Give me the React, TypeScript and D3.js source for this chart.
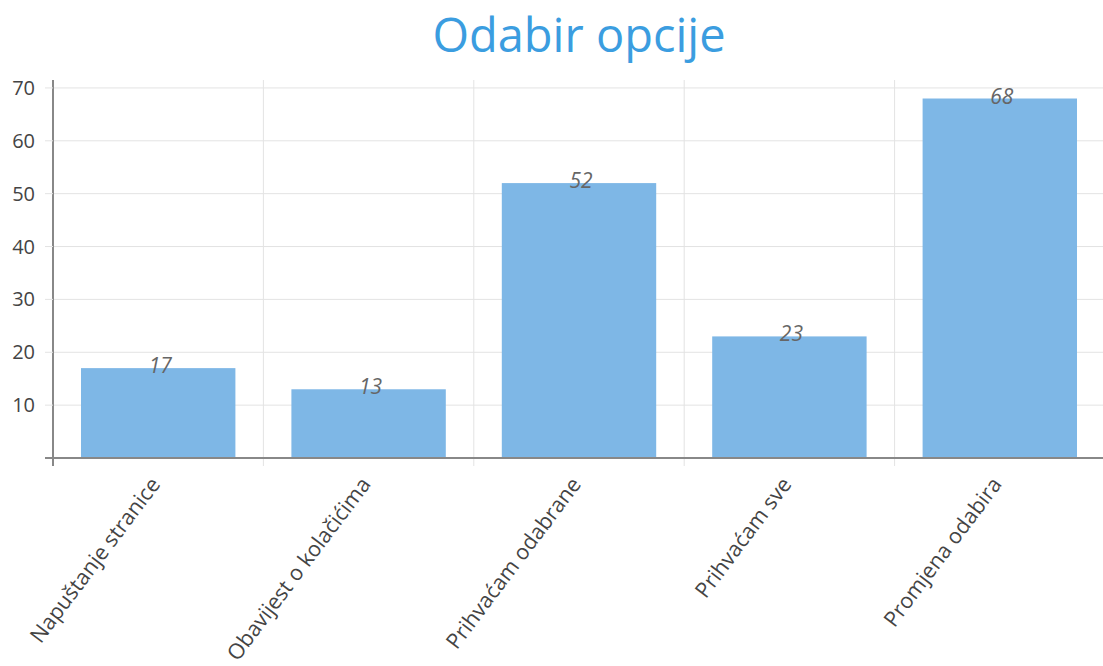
import React, { useEffect, useRef } from 'react';
import * as d3 from 'd3';

const categories = ['Napuštanje stranice', 'Obavijest o kolačićima', 'Prihvaćam odabrane', 'Prihvaćam sve', 'Promjena odabira'];
const values = [17, 13, 52, 23, 68];
const yTicks = [10, 20, 30, 40, 50, 60, 70];
const title = 'Odabir opcije';

const W = 1103;
const H = 666;

export default function App() {
  const ref = useRef<SVGSVGElement>(null);

  useEffect(() => {
    const svg = d3.select(ref.current);
    svg.selectAll('*').remove();

    const margin = { top: 80, right: -2, bottom: 208, left: 53 };
    const width = W - margin.left - margin.right;
    const height = H - margin.top - margin.bottom;

    const x = d3.scaleBand().domain(categories).range([0, width]).paddingInner(0).paddingOuter(0);
    const y = d3.scaleLinear().domain([0, 71.5]).range([height, 0]);

    const g = svg.append('g').attr('transform', `translate(${margin.left},${margin.top})`);

    // grid lines
    g.selectAll('line.hgrid')
      .data(yTicks)
      .enter()
      .append('line')
      .attr('x1', 0)
      .attr('x2', width)
      .attr('y1', d => y(d))
      .attr('y2', d => y(d))
      .attr('stroke', '#e3e3e3')
      .attr('stroke-width', 1);

    g.selectAll('line.vgrid')
      .data(categories.slice(1))
      .enter()
      .append('line')
      .attr('x1', d => x(d)!)
      .attr('x2', d => x(d)!)
      .attr('y1', 0)
      .attr('y2', height + 8)
      .attr('stroke', '#e3e3e3')
      .attr('stroke-width', 1);

    // bars
    const barPad = 28;
    g.selectAll('rect')
      .data(values)
      .enter()
      .append('rect')
      .attr('x', (d, i) => x(categories[i])! + barPad)
      .attr('y', d => y(d))
      .attr('width', x.bandwidth() - 2 * barPad)
      .attr('height', d => height - y(d))
      .attr('fill', '#7eb7e6');

    // value labels
    g.selectAll('text.val')
      .data(values)
      .enter()
      .append('text')
      .attr('x', (d, i) => x(categories[i])! + x.bandwidth() / 2 + 2)
      .attr('y', d => y(d) + 5)
      .attr('text-anchor', 'middle')
      .attr('font-family', 'Open Sans')
      .attr('font-style', 'italic')
      .attr('font-size', 21)
      .attr('fill', '#666')
      .text(d => d);

    // y axis
    g.append('line')
      .attr('x1', 0).attr('x2', 0)
      .attr('y1', 0).attr('y2', height + 8)
      .attr('stroke', '#888').attr('stroke-width', 2);

    g.selectAll('line.ytick')
      .data(yTicks)
      .enter()
      .append('line')
      .attr('x1', -8).attr('x2', 0)
      .attr('y1', d => y(d)).attr('y2', d => y(d))
      .attr('stroke', '#e3e3e3');

    g.selectAll('text.ytl')
      .data(yTicks)
      .enter()
      .append('text')
      .attr('x', -18)
      .attr('y', d => y(d))
      .attr('dy', '0.35em')
      .attr('text-anchor', 'end')
      .attr('font-family', 'Open Sans')
      .attr('font-size', 20)
      .attr('fill', '#444')
      .text(d => d);

    // x axis
    g.append('line')
      .attr('x1', -8).attr('x2', width)
      .attr('y1', height).attr('y2', height)
      .attr('stroke', '#888').attr('stroke-width', 2);

    g.selectAll('text.xtl')
      .data(categories)
      .enter()
      .append('text')
      .attr('transform', d => `translate(${x(d)! + x.bandwidth() / 2 - 3},${height + 22}) rotate(-53)`)
      .attr('text-anchor', 'end')
      .attr('dy', '0.35em')
      .attr('font-family', 'Open Sans')
      .attr('font-size', 21.5)
      .attr('fill', '#444')
      .text(d => d);

    // title
    svg.append('text')
      .attr('x', margin.left + width / 2)
      .attr('y', 52)
      .attr('text-anchor', 'middle')
      .attr('font-family', 'Open Sans')
      .attr('font-size', 47)
      .attr('fill', '#3b9de0')
      .text(title);
  }, []);

  return (
    <svg ref={ref} width={W} height={H} style={{ position: 'absolute', left: 0, top: 0, background: '#fff' }} />
  );
}
